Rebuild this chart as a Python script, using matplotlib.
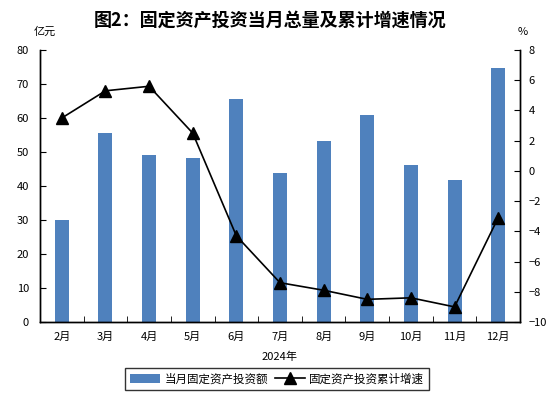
import matplotlib
matplotlib.use("Agg")
import matplotlib.pyplot as plt
import numpy as np

plt.rcParams['font.family'] = ['Noto Sans CJK SC', 'DejaVu Sans']

months = ["2月", "3月", "4月", "5月", "6月", "7月", "8月", "9月", "10月", "11月", "12月"]
monthly_total = [30.0, 55.6, 49.1, 48.3, 65.6, 43.8, 53.2, 60.9, 46.2, 41.8, 74.6]
cum_growth = [3.5, 5.3, 5.6, 2.5, -4.3, -7.4, -7.9, -8.5, -8.4, -9.0, -3.1]
left_ticks = [0, 10, 20, 30, 40, 50, 60, 70, 80]
right_ticks = [-10, -8, -6, -4, -2, 0, 2, 4, 6, 8]

W, H = 554, 398
fig = plt.figure(figsize=(W/100, H/100), dpi=100)
ax = fig.add_axes([40/W, 1-322/H, 480/W, 272/H])
ax2 = ax.twinx()

x = np.arange(len(months))
bars = ax.bar(x, monthly_total, width=0.32, color="#4F81BD", label="当月固定资产投资额", zorder=2)
line, = ax2.plot(x, cum_growth, color="black", lw=1.2, marker="^", markersize=9,
                 label="固定资产投资累计增速", zorder=3)

ax.set_xlim(-0.5, len(months)-0.5)
ax.set_ylim(0, 80)
ax2.set_ylim(-10, 8)
ax.set_yticks(left_ticks)
ax2.set_yticks(right_ticks)
ax.set_xticks(x)
ax.set_xticklabels(months)
ax.set_xticks(np.arange(-0.5, len(months)), minor=True)
ax.tick_params(axis='x', which='major', length=0, labelsize=8, pad=7)
ax.tick_params(axis='x', which='minor', direction='in', length=4)
ax.tick_params(axis='y', direction='in', length=4, labelsize=8, pad=8)
ax2.tick_params(axis='y', direction='in', length=4, labelsize=8, pad=6)

for a in (ax, ax2):
    a.spines['top'].set_visible(False)
    for s in ('left', 'right', 'bottom'):
        a.spines[s].set_linewidth(1.0)

fig.text(270/W, 1-20/H, "图2：固定资产投资当月总量及累计增速情况", ha='center', va='center',
         fontsize=13, fontweight='bold')
fig.text(45/W, 1-32/H, "亿元", ha='center', va='center', fontsize=8)
fig.text(523/W, 1-32/H, "%", ha='center', va='center', fontsize=8)
fig.text(280/W, 1-357/H, "2024年", ha='center', va='center', fontsize=8)

leg = fig.legend(handles=[bars, line], loc='center', bbox_to_anchor=(277/W, 1-379/H), ncol=2,
                 frameon=True, fancybox=False, edgecolor='black', fontsize=8.3,
                 handlelength=2.6, columnspacing=0.6, handletextpad=0.4,
                 borderpad=0.4)
leg.get_frame().set_linewidth(1.0)

fig.savefig("out.png", dpi=100)
